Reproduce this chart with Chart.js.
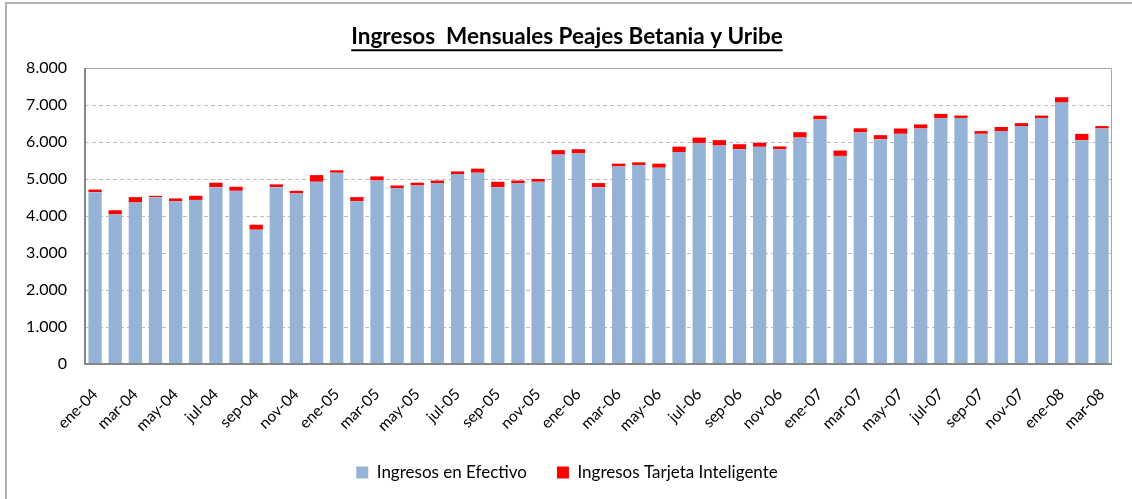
<!DOCTYPE html>
<html lang="es">
<head>
<meta charset="utf-8">
<title>Ingresos Mensuales Peajes Betania y Uribe</title>
<script src="https://cdn.jsdelivr.net/npm/chart.js@4.4.1/dist/chart.umd.min.js"></script>
<style>
  html, body { margin: 0; padding: 0; background: #fff; overflow: hidden; }
  #wrap { position: relative; width: 1132px; height: 499px; }
  #wrap canvas { position: absolute; left: 0; top: 0; }
  #frame { position: absolute; left: 5px; top: 2px; width: 1200px; height: 600px;
           border: 2px solid #b0b0b0; box-sizing: border-box; pointer-events: none; }
</style>
</head>
<body>
<div id="wrap">
  <canvas id="peajes" width="1132" height="499"></canvas>
  <div id="frame"></div>
</div>
<script>
/* ---- datos ---- */
const meses = [
  'ene-04','feb-04','mar-04','abr-04','may-04','jun-04','jul-04','ago-04','sep-04','oct-04','nov-04','dic-04',
  'ene-05','feb-05','mar-05','abr-05','may-05','jun-05','jul-05','ago-05','sep-05','oct-05','nov-05','dic-05',
  'ene-06','feb-06','mar-06','abr-06','may-06','jun-06','jul-06','ago-06','sep-06','oct-06','nov-06','dic-06',
  'ene-07','feb-07','mar-07','abr-07','may-07','jun-07','jul-07','ago-07','sep-07','oct-07','nov-07','dic-07',
  'ene-08','feb-08','mar-08'
];

const efectivo = [
  4645, 4045, 4365, 4510, 4400, 4435, 4780, 4680, 3630, 4780, 4610, 4925,
  5170, 4400, 4960, 4755, 4825, 4890, 5135, 5170, 4780, 4890, 4925, 5660,
  5695, 4780, 5340, 5380, 5305, 5730, 5975, 5905, 5805, 5870, 5805, 6120,
  6610, 5625, 6260, 6075, 6220, 6365, 6650, 6650, 6220, 6295, 6430, 6650,
  7065, 6050, 6365
];

const tarjeta = [
   70, 110, 145,  35,  75, 110, 120, 110, 135,  75,  70, 180,
   65, 110, 110,  70,  75,  70,  70, 110, 145,  70,  75, 120,
  110, 110,  75,  70, 110, 145, 145, 145, 135, 110,  75, 145,
  100, 145, 110, 110, 145, 110, 110,  65,  75, 110,  80,  65,
  145, 170,  65
];

const tituloTexto = 'Ingresos  Mensuales Peajes Betania y Uribe';
const FONT = 'Lato, "Open Sans", "DejaVu Sans", sans-serif';

function miles(v) {
  return String(v).replace(/\B(?=(\d{3})+(?!\d))/g, '.');
}

Chart.defaults.font.family = FONT;
Chart.defaults.color = '#000';

// marco del area de trazado (gris claro arriba/derecha, gris oscuro en los ejes)
const plotFrame = {
  id: 'plotFrame',
  afterDatasetsDraw(chart) {
    const { ctx, chartArea: a } = chart;
    ctx.save();
    ctx.strokeStyle = '#a6a6a6';
    ctx.lineWidth = 1;
    ctx.beginPath();
    ctx.moveTo(a.left, a.top + 0.5);
    ctx.lineTo(a.right - 0.5, a.top + 0.5);
    ctx.lineTo(a.right - 0.5, a.bottom);
    ctx.stroke();
    ctx.strokeStyle = '#868686';
    ctx.lineWidth = 2;
    ctx.beginPath();
    ctx.moveTo(a.left, a.top);
    ctx.lineTo(a.left, a.bottom);
    ctx.lineTo(a.right, a.bottom);
    ctx.stroke();
    ctx.restore();
  }
};

// subrayado del titulo
const titleUnderline = {
  id: 'titleUnderline',
  afterDraw(chart) {
    const tb = chart.titleBlock;
    const opts = chart.options.plugins.title;
    if (!tb || !opts.display) return;
    const ctx = chart.ctx;
    const f = Chart.helpers.toFont(opts.font);
    ctx.save();
    ctx.font = f.string;
    const w = ctx.measureText(opts.text).width;
    const cx = (tb.left + tb.right) / 2;
    const y = tb.top + opts.padding.top + f.lineHeight / 2 + f.size * 0.61;
    ctx.strokeStyle = '#000';
    ctx.lineWidth = 2;
    ctx.beginPath();
    ctx.moveTo(cx - w / 2, y);
    ctx.lineTo(cx + w / 2, y);
    ctx.stroke();
    ctx.restore();
  }
};

new Chart(document.getElementById('peajes'), {
  type: 'bar',
  data: {
    labels: meses,
    datasets: [
      { label: 'Ingresos en Efectivo', data: efectivo, backgroundColor: '#95b3d7',
        barPercentage: 0.66, categoryPercentage: 1 },
      { label: 'Ingresos Tarjeta Inteligente', data: tarjeta, backgroundColor: '#ff0000',
        barPercentage: 0.66, categoryPercentage: 1 }
    ]
  },
  options: {
    responsive: false,
    animation: false,
    layout: { padding: { left: 22, right: 20, top: 0, bottom: 8 } },
    plugins: {
      title: {
        display: true,
        text: tituloTexto,
        color: '#000',
        font: { size: 22.5, weight: 'bold' },
        padding: { top: 23, bottom: 18 }
      },
      legend: {
        position: 'bottom',
        labels: { boxWidth: 12, boxHeight: 12, padding: 30, color: '#000', font: { size: 17 } }
      },
      tooltip: { enabled: false }
    },
    scales: {
      x: {
        stacked: true,
        grid: { display: false },
        border: { display: false },
        ticks: {
          autoSkip: false, minRotation: 45, maxRotation: 45, padding: 13,
          font: { size: 15.5 },
          callback: (v, i) => (i % 2 === 0 ? meses[i] : '')
        },
        afterFit: s => { s.height = 70; }
      },
      y: {
        stacked: true,
        min: 0, max: 8000,
        grid: { color: '#bcbcbc', lineWidth: 1, drawTicks: false },
        border: { display: false, dash: [4, 3] },
        ticks: { stepSize: 1000, padding: 18, font: { size: 16 }, callback: v => miles(v) },
        afterFit: s => { s.width = 63; }
      }
    }
  },
  plugins: [plotFrame, titleUnderline]
});
</script>
</body>
</html>
